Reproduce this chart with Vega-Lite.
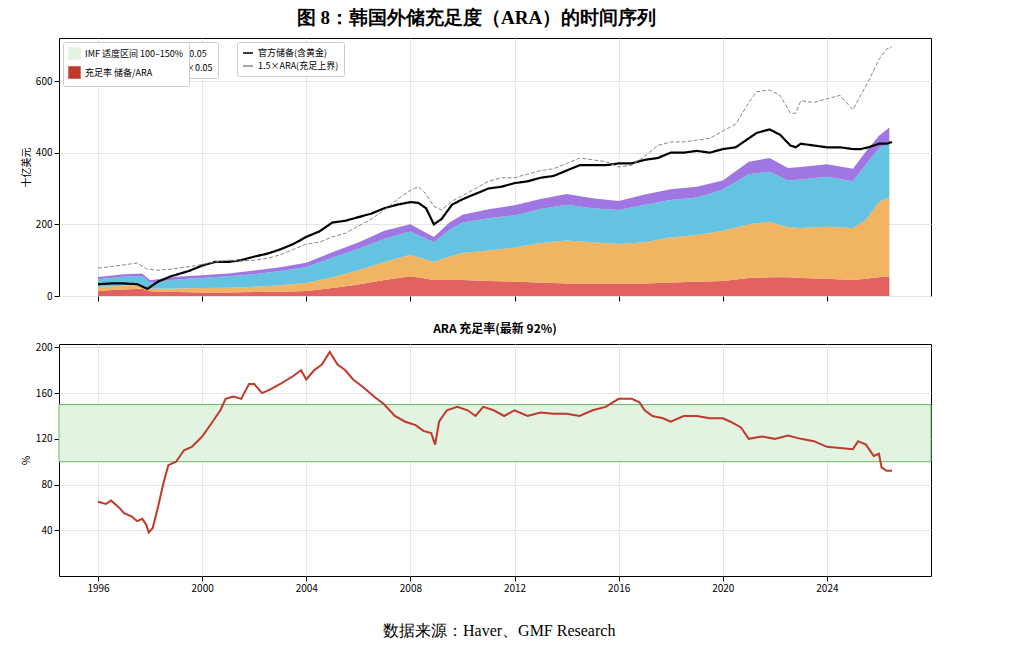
{
"$schema":"https://vega.github.io/schema/vega-lite/v6.json",
"background":"white",
"padding":{"left":20,"top":8,"right":10,"bottom":5},
"config":{"font":"Noto Sans CJK SC","view":{"stroke":"black","strokeWidth":1},"axis":{"gridColor":"#e6e6e6","labelFontSize":10,"titleFontSize":10,"titleFontWeight":"normal","domain":false,"tickColor":"black","labelColor":"black"},"legend":{"labelFontSize":9,"strokeColor":"#cccccc","fillColor":"white","padding":5,"cornerRadius":2}},
"title":{"text":"图 8：韩国外储充足度（ARA）的时间序列","font":"Liberation Serif","fontSize":19,"fontWeight":"bold","anchor":"middle","offset":10},
"datasets":{
"stack":[
{"t":1996.0,"a_std":15,"b_opl":10,"c_m2":22,"d_exp":6},
{"t":1997.0,"a_std":18,"b_opl":11,"c_m2":25,"d_exp":7},
{"t":1997.7,"a_std":20,"b_opl":10,"c_m2":26,"d_exp":7},
{"t":1998.0,"a_std":13,"b_opl":7,"c_m2":18,"d_exp":6},
{"t":1999,"a_std":11,"b_opl":10,"c_m2":25,"d_exp":8},
{"t":2000,"a_std":10,"b_opl":12,"c_m2":28,"d_exp":8},
{"t":2001,"a_std":10,"b_opl":13,"c_m2":32,"d_exp":8},
{"t":2002,"a_std":11,"b_opl":15,"c_m2":35,"d_exp":10},
{"t":2003,"a_std":12,"b_opl":18,"c_m2":40,"d_exp":10},
{"t":2004,"a_std":14,"b_opl":22,"c_m2":45,"d_exp":12},
{"t":2005,"a_std":22,"b_opl":30,"c_m2":55,"d_exp":15},
{"t":2006,"a_std":32,"b_opl":40,"c_m2":60,"d_exp":17},
{"t":2007,"a_std":45,"b_opl":50,"c_m2":65,"d_exp":22},
{"t":2008,"a_std":55,"b_opl":60,"c_m2":65,"d_exp":20},
{"t":2008.9,"a_std":45,"b_opl":50,"c_m2":55,"d_exp":15},
{"t":2009.5,"a_std":45,"b_opl":65,"c_m2":75,"d_exp":20},
{"t":2010,"a_std":45,"b_opl":75,"c_m2":85,"d_exp":22},
{"t":2011,"a_std":42,"b_opl":85,"c_m2":90,"d_exp":25},
{"t":2012,"a_std":40,"b_opl":95,"c_m2":90,"d_exp":28},
{"t":2013,"a_std":38,"b_opl":110,"c_m2":95,"d_exp":28},
{"t":2014,"a_std":35,"b_opl":120,"c_m2":100,"d_exp":30},
{"t":2015,"a_std":35,"b_opl":115,"c_m2":95,"d_exp":28},
{"t":2016,"a_std":35,"b_opl":110,"c_m2":95,"d_exp":25},
{"t":2017,"a_std":35,"b_opl":115,"c_m2":105,"d_exp":28},
{"t":2018,"a_std":38,"b_opl":125,"c_m2":105,"d_exp":30},
{"t":2019,"a_std":40,"b_opl":130,"c_m2":105,"d_exp":30},
{"t":2020,"a_std":42,"b_opl":140,"c_m2":115,"d_exp":25},
{"t":2021,"a_std":50,"b_opl":150,"c_m2":140,"d_exp":35},
{"t":2021.8,"a_std":52,"b_opl":155,"c_m2":140,"d_exp":38},
{"t":2022.5,"a_std":52,"b_opl":140,"c_m2":130,"d_exp":35},
{"t":2023,"a_std":50,"b_opl":140,"c_m2":135,"d_exp":35},
{"t":2024,"a_std":48,"b_opl":145,"c_m2":140,"d_exp":35},
{"t":2025,"a_std":45,"b_opl":145,"c_m2":130,"d_exp":35},
{"t":2025.5,"a_std":48,"b_opl":165,"c_m2":155,"d_exp":35},
{"t":2026,"a_std":52,"b_opl":210,"c_m2":150,"d_exp":35},
{"t":2026.4,"a_std":55,"b_opl":220,"c_m2":155,"d_exp":40}
],
"lines":[
{"t":1996.0,"res":33,"ara15":78},{"t":1996.5,"res":35,"ara15":82},{"t":1997.0,"res":35,"ara15":87},{"t":1997.5,"res":33,"ara15":92},{"t":1997.9,"res":20,"ara15":75},{"t":1998.3,"res":40,"ara15":72},{"t":1998.8,"res":55,"ara15":75},{"t":1999.5,"res":70,"ara15":82},{"t":2000,"res":85,"ara15":88},{"t":2000.5,"res":95,"ara15":95},{"t":2001,"res":95,"ara15":100},{"t":2001.5,"res":100,"ara15":98},{"t":2002,"res":110,"ara15":100},{"t":2002.5,"res":118,"ara15":105},{"t":2003,"res":130,"ara15":115},{"t":2003.5,"res":145,"ara15":130},{"t":2004,"res":165,"ara15":145},{"t":2004.5,"res":180,"ara15":150},{"t":2005,"res":205,"ara15":165},{"t":2005.5,"res":210,"ara15":175},{"t":2006,"res":220,"ara15":195},{"t":2006.5,"res":230,"ara15":215},{"t":2007,"res":245,"ara15":240},{"t":2007.5,"res":255,"ara15":270},{"t":2008,"res":262,"ara15":295},{"t":2008.3,"res":260,"ara15":305},{"t":2008.6,"res":245,"ara15":285},{"t":2008.9,"res":200,"ara15":250},{"t":2009.2,"res":215,"ara15":240},{"t":2009.6,"res":255,"ara15":265},{"t":2010,"res":270,"ara15":280},{"t":2010.5,"res":285,"ara15":300},{"t":2011,"res":300,"ara15":320},{"t":2011.5,"res":305,"ara15":330},{"t":2012,"res":315,"ara15":330},{"t":2012.5,"res":320,"ara15":340},{"t":2013,"res":330,"ara15":350},{"t":2013.5,"res":335,"ara15":355},{"t":2014,"res":350,"ara15":370},{"t":2014.5,"res":365,"ara15":385},{"t":2015,"res":365,"ara15":380},{"t":2015.5,"res":365,"ara15":375},{"t":2016,"res":370,"ara15":360},{"t":2016.5,"res":370,"ara15":365},{"t":2017,"res":380,"ara15":390},{"t":2017.5,"res":385,"ara15":420},{"t":2018,"res":400,"ara15":430},{"t":2018.5,"res":400,"ara15":430},{"t":2019,"res":405,"ara15":435},{"t":2019.5,"res":400,"ara15":440},{"t":2020,"res":410,"ara15":460},{"t":2020.5,"res":415,"ara15":480},{"t":2021,"res":440,"ara15":540},{"t":2021.3,"res":455,"ara15":570},{"t":2021.8,"res":465,"ara15":575},{"t":2022.2,"res":450,"ara15":560},{"t":2022.6,"res":420,"ara15":510},{"t":2022.8,"res":415,"ara15":510},{"t":2023,"res":425,"ara15":545},{"t":2023.5,"res":420,"ara15":540},{"t":2024,"res":415,"ara15":550},{"t":2024.5,"res":415,"ara15":560},{"t":2025,"res":410,"ara15":520},{"t":2025.3,"res":410,"ara15":560},{"t":2025.6,"res":415,"ara15":600},{"t":2026,"res":425,"ara15":660},{"t":2026.3,"res":425,"ara15":690},{"t":2026.5,"res":430,"ara15":695}
],
"ratio":[
{"t":1996.0,"r":65},{"t":1996.3,"r":63},{"t":1996.5,"r":66},{"t":1996.8,"r":60},{"t":1997.0,"r":55},{"t":1997.3,"r":52},{"t":1997.5,"r":48},{"t":1997.7,"r":50},{"t":1997.85,"r":45},{"t":1997.95,"r":38},{"t":1998.1,"r":42},{"t":1998.3,"r":60},{"t":1998.5,"r":80},{"t":1998.7,"r":97},{"t":1999.0,"r":100},{"t":1999.3,"r":110},{"t":1999.6,"r":113},{"t":2000.0,"r":122},{"t":2000.4,"r":135},{"t":2000.7,"r":145},{"t":2000.9,"r":155},{"t":2001.2,"r":157},{"t":2001.5,"r":155},{"t":2001.8,"r":168},{"t":2002.0,"r":168},{"t":2002.3,"r":160},{"t":2002.6,"r":163},{"t":2003.0,"r":168},{"t":2003.5,"r":175},{"t":2003.8,"r":180},{"t":2004.0,"r":172},{"t":2004.3,"r":180},{"t":2004.6,"r":185},{"t":2004.9,"r":196},{"t":2005.2,"r":185},{"t":2005.5,"r":180},{"t":2005.8,"r":172},{"t":2006.2,"r":165},{"t":2006.6,"r":157},{"t":2007.0,"r":150},{"t":2007.4,"r":140},{"t":2007.8,"r":135},{"t":2008.2,"r":132},{"t":2008.5,"r":127},{"t":2008.8,"r":125},{"t":2008.95,"r":115},{"t":2009.1,"r":135},{"t":2009.4,"r":145},{"t":2009.8,"r":148},{"t":2010.2,"r":145},{"t":2010.5,"r":140},{"t":2010.8,"r":148},{"t":2011.2,"r":145},{"t":2011.6,"r":140},{"t":2012.0,"r":145},{"t":2012.5,"r":140},{"t":2013,"r":143},{"t":2013.5,"r":142},{"t":2014,"r":142},{"t":2014.5,"r":140},{"t":2015,"r":145},{"t":2015.5,"r":148},{"t":2016,"r":155},{"t":2016.5,"r":155},{"t":2016.8,"r":152},{"t":2017.0,"r":145},{"t":2017.3,"r":140},{"t":2017.7,"r":138},{"t":2018.0,"r":135},{"t":2018.5,"r":140},{"t":2019,"r":140},{"t":2019.5,"r":138},{"t":2020,"r":138},{"t":2020.3,"r":135},{"t":2020.7,"r":130},{"t":2021.0,"r":120},{"t":2021.5,"r":122},{"t":2022,"r":120},{"t":2022.5,"r":123},{"t":2023,"r":120},{"t":2023.5,"r":118},{"t":2024.0,"r":113},{"t":2024.5,"r":112},{"t":2025.0,"r":111},{"t":2025.2,"r":118},{"t":2025.5,"r":115},{"t":2025.8,"r":105},{"t":2026.0,"r":107},{"t":2026.1,"r":95},{"t":2026.3,"r":92},{"t":2026.5,"r":92}
]
},
"vconcat":[
{"width":872,"height":258,
"layer":[
{"data":{"name":"stack"},"transform":[{"fold":["a_std","b_opl","c_m2","d_exp"],"as":["s","v"]}],
"mark":{"type":"area","opacity":0.95},
"encoding":{"x":{"field":"t","type":"quantitative","scale":{"domain":[1994.5,2028],"nice":false},"axis":{"values":[1996,2000,2004,2008,2012,2016,2020,2024],"labels":false,"title":null,"grid":true}},
"y":{"field":"v","type":"quantitative","stack":"zero","scale":{"domain":[0,720],"nice":false},"axis":{"values":[0,100,200,300,400,500,600,700],"title":"十亿美元","grid":true}},
"order":{"field":"s","type":"ordinal","sort":"ascending"},
"color":{"field":"s","type":"nominal","scale":{"domain":["a_std","c_m2","b_opl","d_exp"],"range":["#e05a5a","#5bc0de","#f0b05a","#9b6fe0"]},"legend":{"title":null,"orient":"none","legendX":6,"legendY":4,"columns":2,"columnPadding":20,"symbolType":"square","symbolSize":120,"direction":"horizontal","labelExpr":"datum.value=='a_std'?'STD×0.30':datum.value=='b_opl'?'OPL×0.15':datum.value=='c_m2'?'M2×0.05':'出口×0.05'"}}}},
{"data":{"name":"lines"},"transform":[{"fold":["res","ara15"],"as":["s","v"]}],
"mark":{"type":"line"},
"encoding":{"x":{"field":"t","type":"quantitative"},"y":{"field":"v","type":"quantitative"},
"color":{"field":"s","type":"nominal","scale":{"domain":["res","ara15"],"range":["black","#888888"]},"legend":{"title":null,"orient":"none","legendX":178,"legendY":4,"symbolType":"stroke","labelExpr":"datum.value=='res'?'官方储备(含黄金)':'1.5×ARA(充足上界)'"}},
"strokeDash":{"field":"s","type":"nominal","scale":{"domain":["res","ara15"],"range":[[1,0],[4,2]]},"legend":null},
"strokeWidth":{"field":"s","type":"nominal","scale":{"domain":["res","ara15"],"range":[2.2,1]},"legend":null}}}
],
"resolve":{"scale":{"color":"independent"}}},
{"width":872,"height":232,
"title":{"text":"ARA 充足率(最新 92%)","fontSize":12,"fontWeight":"bold","offset":6},
"layer":[
{"data":{"values":[{"a":100,"b":150}]},"mark":{"type":"rect","stroke":"#66bb66","strokeWidth":1},
"encoding":{"y":{"field":"a","type":"quantitative"},"y2":{"field":"b"},"color":{"datum":"IMF 适度区间 100–150%"}}},
{"data":{"name":"ratio"},"mark":{"type":"line","strokeWidth":2},
"encoding":{"x":{"field":"t","type":"quantitative","scale":{"domain":[1994.5,2028],"nice":false},"axis":{"values":[1996,2000,2004,2008,2012,2016,2020,2024],"format":"d","title":null,"grid":true}},
"y":{"field":"r","type":"quantitative","scale":{"domain":[32,203],"nice":false},"axis":{"values":[40,60,80,100,120,140,160,180,200],"title":"%","grid":true}},
"color":{"datum":"充足率 储备/ARA","scale":{"domain":["IMF 适度区间 100–150%","充足率 储备/ARA"],"range":["#e2f3e2","#c0392b"]},"legend":{"title":null,"orient":"top-left","offset":4,"symbolType":"square","symbolSize":120}}}}
]},
{"width":872,"height":10,"view":{"stroke":null},
"data":{"values":[{"s":"数据来源：Haver、GMF Research"}]},
"mark":{"type":"text","align":"left","font":"Liberation Serif","fontSize":16,"dx":-112,"dy":12},
"encoding":{"text":{"field":"s"}}}
]
}
